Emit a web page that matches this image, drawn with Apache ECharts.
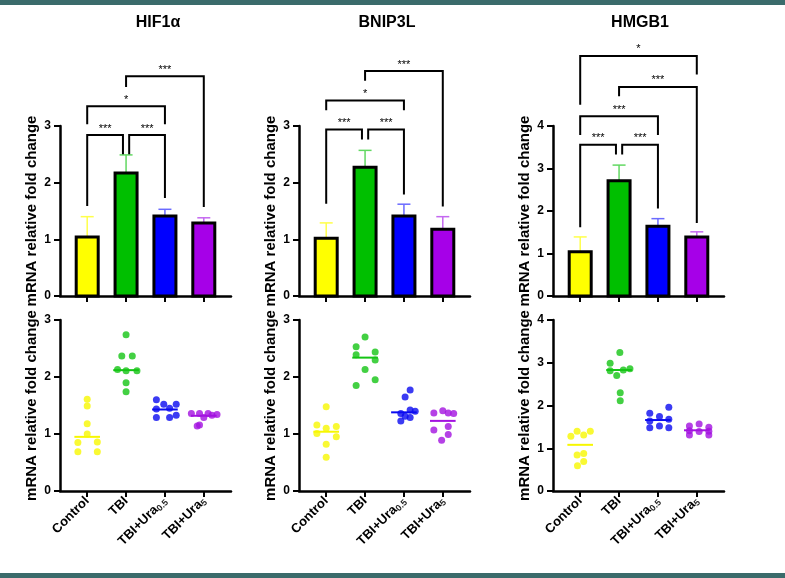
<!DOCTYPE html>
<html>
<head>
<meta charset="utf-8">
<title>mRNA relative fold change</title>
<script src="https://cdn.jsdelivr.net/npm/echarts@6/dist/echarts.min.js"></script>
<style>
  html, body { margin: 0; padding: 0; background: #fff; }
  #main { width: 785px; height: 578px; }
</style>
</head>
<body>
<div id="main"></div>
<script>
// groups and genes
var groups = ['Control', 'TBI', 'TBI+Ura0.5', 'TBI+Ura5'];
var groupLabels = ['Control', 'TBI', '{a|TBI+Ura}{s|0.5}', '{a|TBI+Ura}{s|5}'];
var genes = ['HIF1α', 'BNIP3L', 'HMGB1'];
var yMax = [3, 3, 4];

// bar heights (mean) and top of error bar
var hifBar = [1.04, 2.17, 1.41, 1.29];
var hifErr = [1.40, 2.49, 1.53, 1.38];
var bnipBar = [1.02, 2.27, 1.41, 1.18];
var bnipErr = [1.29, 2.57, 1.62, 1.40];
var hmgbBar = [1.04, 2.71, 1.64, 1.39];
var hmgbErr = [1.39, 3.08, 1.82, 1.51];

// individual samples (per group) and horizontal jitter in category units
var hifDots = [
  [1.61, 1.49, 1.18, 1.00, 0.85, 0.86, 0.69, 0.69],
  [2.74, 2.37, 2.37, 2.13, 2.11, 2.11, 1.90, 1.74],
  [1.60, 1.52, 1.52, 1.44, 1.45, 1.33, 1.29, 1.29],
  [1.36, 1.36, 1.36, 1.34, 1.29, 1.16, 1.14, 1.33]
];
var hifJitter = [
  [0, 0, 0, 0, -0.24, 0.26, -0.24, 0.26],
  [0, -0.11, 0.16, -0.22, 0, 0.28, 0, 0],
  [-0.22, -0.03, 0.29, -0.22, 0.12, 0.29, -0.22, 0.12],
  [-0.32, -0.11, 0.11, 0.34, 0, -0.11, -0.17, 0.21]
];
var hifMedian = [0.95, 2.12, 1.43, 1.32];

var bnipDots = [
  [1.48, 1.16, 1.10, 1.13, 1.01, 0.95, 0.82, 0.59],
  [2.70, 2.53, 2.44, 2.39, 2.30, 2.13, 1.95, 1.85],
  [1.77, 1.65, 1.42, 1.40, 1.36, 1.31, 1.29, 1.23],
  [1.41, 1.37, 1.37, 1.36, 1.13, 1.07, 0.99, 0.89]
];
var bnipJitter = [
  [0, -0.24, 0, 0.26, -0.24, 0.26, 0, 0],
  [0, -0.23, 0.26, -0.23, 0.26, 0, 0.26, -0.23],
  [0.16, 0.03, 0.16, 0.29, -0.08, 0.03, 0.16, -0.08],
  [0, -0.23, 0.14, 0.28, 0.14, -0.23, 0.14, -0.03]
];
var bnipMedian = [1.04, 2.34, 1.38, 1.23];

var hmgbDots = [
  [1.40, 1.40, 1.31, 1.28, 0.88, 0.84, 0.69, 0.59],
  [3.24, 2.99, 2.81, 2.83, 2.86, 2.70, 2.30, 2.11],
  [1.82, 1.96, 1.74, 1.64, 1.68, 1.48, 1.52, 1.48],
  [1.52, 1.57, 1.49, 1.41, 1.39, 1.40, 1.31, 1.31]
];
var hmgbJitter = [
  [-0.08, 0.26, 0.09, -0.24, 0.09, -0.08, 0.09, -0.07],
  [0.02, -0.23, -0.23, 0.11, 0.28, -0.06, 0.03, 0.03],
  [-0.21, 0.28, 0.04, -0.21, 0.28, -0.21, 0.04, 0.28],
  [-0.19, 0.06, 0.31, -0.19, 0.06, 0.31, -0.19, 0.31]
];
var hmgbMedian = [1.08, 2.83, 1.66, 1.42];

// significance brackets: [from, to, bar level, left leg end, right leg end]
var hifPairs = [[0, 0.92, 2.84, 1.59, 2.50], [1.08, 2, 2.84, 2.50, 1.73], [0, 2, 3.35, 3.03, 3.03], [1, 3, 3.88, 3.69, 1.57]];
var hifStars = ['***', '***', '*', '***'];
var bnipPairs = [[0, 0.92, 2.94, 1.63, 2.76], [1.08, 2, 2.94, 2.76, 1.79], [0, 2, 3.45, 3.28, 3.28], [1, 3, 3.97, 3.80, 1.58]];
var bnipStars = ['***', '***', '*', '***'];
var hmgbPairs = [[0, 0.92, 3.56, 1.62, 3.33], [1.08, 2, 3.56, 3.33, 2.06], [0, 2, 4.23, 3.79, 3.79], [1, 3, 4.92, 4.70, 1.72], [0, 3, 5.65, 4.50, 5.21]];
var hmgbStars = ['***', '***', '***', '***', '*'];

var panels = [
  { bar: hifBar, err: hifErr, dots: hifDots, jit: hifJitter, med: hifMedian, pairs: hifPairs, stars: hifStars },
  { bar: bnipBar, err: bnipErr, dots: bnipDots, jit: bnipJitter, med: bnipMedian, pairs: bnipPairs, stars: bnipStars },
  { bar: hmgbBar, err: hmgbErr, dots: hmgbDots, jit: hmgbJitter, med: hmgbMedian, pairs: hmgbPairs, stars: hmgbStars }
];

var fillColors = ['#ffff00', '#00bf00', '#0000ff', '#a600e8'];
var errColors = ['#ffff4a', '#62d862', '#6b6bff', '#c468f0'];
var dotColors = ['#f7f700', '#14c414', '#0a0af0', '#a312e0'];
var font = 'Arial, "Liberation Sans", sans-serif';
var gridLeft = [60, 299, 553];
var titleX = [158, 387, 640];
// groups sit at 0.7, 1.7, ... so the y axis (on x = 0) is the left edge
var shift = 0.7;
var ticks = [0, 1, 2, 3].map(function (i) { return i + shift; });

var chart = echarts.init(document.getElementById('main'));

var grids = [], xAxes = [], yAxes = [], series = [];

function renderBar(params, api) {
  var i = params.dataIndex;
  var x = api.value(0);
  var top = api.coord([x, api.value(1)]);
  var base = api.coord([x, 0]);
  var tip = api.coord([x, api.value(2)]);
  var c = errColors[i];
  return {
    type: 'group',
    children: [
      { type: 'line', shape: { x1: top[0], y1: top[1], x2: tip[0], y2: tip[1] }, style: { stroke: c, lineWidth: 1.5 } },
      { type: 'line', shape: { x1: tip[0] - 6.5, y1: tip[1], x2: tip[0] + 6.5, y2: tip[1] }, style: { stroke: c, lineWidth: 1.5 } },
      { type: 'rect', shape: { x: top[0] - 11, y: top[1], width: 22, height: base[1] - top[1] },
        style: { fill: fillColors[i], stroke: '#000', lineWidth: 3 } }
    ]
  };
}

function bracketRenderer(stars) {
  return function (params, api) {
    var x1 = api.value(0) + shift, x2 = api.value(1) + shift, lv = api.value(2);
    var p1 = api.coord([x1, api.value(3)]);
    var p2 = api.coord([x1, lv]);
    var p3 = api.coord([x2, lv]);
    var p4 = api.coord([x2, api.value(4)]);
    return {
      type: 'group',
      children: [
        { type: 'polyline', shape: { points: [p1, p2, p3, p4] }, style: { stroke: '#000', lineWidth: 2, fill: 'none' } },
        { type: 'text', style: { x: (p2[0] + p3[0]) / 2, y: p2[1] - 1, text: stars[params.dataIndex],
          align: 'center', verticalAlign: 'bottom', fontSize: 11, fontFamily: font, fill: '#000' } }
      ]
    };
  };
}

function renderMedian(params, api) {
  var g = params.dataIndex;
  var x = api.value(0);
  var a = api.coord([x - 0.33, api.value(1)]);
  var b = api.coord([x + 0.33, api.value(1)]);
  return { type: 'line', shape: { x1: a[0], y1: a[1], x2: b[0], y2: b[1] }, style: { stroke: dotColors[g], lineWidth: 2 } };
}

function makeX(idx, showLabels) {
  return {
    type: 'value', gridIndex: idx, min: 0, max: 4.4,
    splitLine: { show: false },
    axisLine: { show: true, lineStyle: { color: '#000', width: 2.5 } },
    axisTick: { show: true, customValues: ticks, length: 6, lineStyle: { color: '#000', width: 2 } },
    axisLabel: {
      show: showLabels, customValues: ticks, rotate: 45, margin: 8,
      fontFamily: font, fontWeight: 'bold', fontSize: 13, color: '#000',
      formatter: function (v) { return groupLabels[Math.round(v - shift)]; },
      rich: {
        a: { fontFamily: font, fontWeight: 'bold', fontSize: 13, color: '#000' },
        s: { fontFamily: font, fontSize: 9, color: '#222', verticalAlign: 'bottom', padding: [6, 0, 0, 0] }
      }
    }
  };
}

function makeY(idx, max) {
  return {
    type: 'value', gridIndex: idx, min: 0, max: max, interval: 1,
    splitLine: { show: false },
    axisLine: { show: true, lineStyle: { color: '#000', width: 2.5 } },
    axisTick: { show: true, length: 6, lineStyle: { color: '#000', width: 2 } },
    axisLabel: { margin: 9, fontFamily: font, fontWeight: 'bold', fontSize: 12, color: '#000' },
    name: 'mRNA relative fold change', nameLocation: 'middle', nameGap: 21,
    nameTextStyle: { fontFamily: font, fontWeight: 'bold', fontSize: 15, color: '#000' }
  };
}

panels.forEach(function (p, k) {
  var t = 2 * k, b = 2 * k + 1;
  grids.push({ left: gridLeft[k], top: 126, width: 171, height: 170 });
  grids.push({ left: gridLeft[k], top: 320, width: 171, height: 171 });
  xAxes.push(makeX(t, false));
  xAxes.push(makeX(b, true));
  yAxes.push(makeY(t, yMax[k]));
  yAxes.push(makeY(b, yMax[k]));

  series.push({
    type: 'custom', xAxisIndex: t, yAxisIndex: t, clip: false,
    data: p.bar.map(function (v, i) { return [i + shift, v, p.err[i]]; }),
    renderItem: renderBar
  });
  series.push({
    type: 'custom', xAxisIndex: t, yAxisIndex: t, clip: false,
    data: p.pairs,
    renderItem: bracketRenderer(p.stars)
  });

  var pts = [];
  p.dots.forEach(function (vals, g) {
    vals.forEach(function (v, j) {
      pts.push({ value: [g + shift + p.jit[g][j], v], itemStyle: { color: dotColors[g] } });
    });
  });
  series.push({
    type: 'scatter', xAxisIndex: b, yAxisIndex: b, symbolSize: 7,
    data: pts
  });
  series.push({
    type: 'custom', xAxisIndex: b, yAxisIndex: b,
    data: p.med.map(function (m, g) { return [g + shift, m]; }),
    renderItem: renderMedian
  });
});

var graphics = [
  { type: 'rect', shape: { x: 0, y: 0, width: 785, height: 5 }, style: { fill: '#3b6b6b' } },
  { type: 'rect', shape: { x: 0, y: 573, width: 785, height: 5 }, style: { fill: '#3b6b6b' } }
];
genes.forEach(function (g, k) {
  graphics.push({ type: 'text', x: titleX[k], y: 23,
    style: { text: g, align: 'center', verticalAlign: 'middle', fontFamily: font, fontWeight: 'bold', fontSize: 16, fill: '#000' } });
});

chart.setOption({
  animation: false,
  backgroundColor: '#fff',
  grid: grids,
  xAxis: xAxes,
  yAxis: yAxes,
  series: series,
  graphic: graphics
});
</script>
</body>
</html>
